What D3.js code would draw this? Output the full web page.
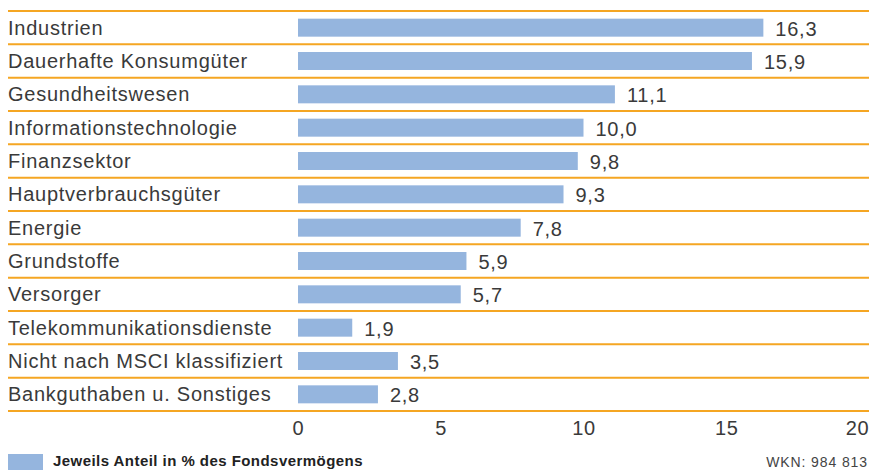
<!DOCTYPE html>
<meta charset="utf-8">
<title>Branchenaufteilung</title>
<style>
body { margin: 0; background: #fff; }
svg text { font-family: "Liberation Sans", "DejaVu Sans", sans-serif; }
.cat, .val, .tick text { font-size: 20px; fill: #3a3a3a; letter-spacing: 0.75px; }
.rule { stroke: #f5a623; stroke-width: 2; }
.bar { fill: #95b5de; }
</style>
<svg width="869" height="470"></svg>
<script src="https://d3js.org/d3.v7.min.js"></script>
<script>

var categories = ["Industrien", "Dauerhafte Konsumgüter", "Gesundheitswesen",
  "Informationstechnologie", "Finanzsektor", "Hauptverbrauchsgüter", "Energie",
  "Grundstoffe", "Versorger", "Telekommunikationsdienste",
  "Nicht nach MSCI klassifiziert", "Bankguthaben u. Sonstiges"];
var values = [16.3, 15.9, 11.1, 10.0, 9.8, 9.3, 7.8, 5.9, 5.7, 1.9, 3.5, 2.8];
var ticks = [0, 5, 10, 15, 20];
var legendText = "Jeweils Anteil in % des Fondsvermögens";
var wknText = "WKN: 984 813";

var svg = d3.select("svg");

var x = d3.scaleLinear().domain([0, 20]).range([298, 869]);
var y = d3.scaleBand().domain(categories).range([11, 411]);
var fmt = function(v) { return d3.format(".1f")(v).replace(".", ","); };

// rows: orange separators
svg.selectAll(".rule")
    .data(d3.range(categories.length + 1))
    .enter().append("line")
    .attr("class", "rule")
    .attr("x1", 8).attr("x2", 869)
    .attr("y1", function(i) { return 11 + i * y.step(); })
    .attr("y2", function(i) { return 11 + i * y.step(); });

svg.selectAll(".bar")
    .data(values)
    .enter().append("rect")
    .attr("class", "bar")
    .attr("x", x(0))
    .attr("y", function(d, i) { return y(categories[i]) + y.bandwidth() / 2 - 9; })
    .attr("width", function(d) { return x(d) - x(0); })
    .attr("height", 18);

svg.selectAll(".cat")
    .data(categories)
    .enter().append("text")
    .attr("class", "cat")
    .attr("x", 8)
    .attr("y", function(d) { return y(d) + y.bandwidth() / 2 + 7; })
    .text(function(d) { return d; });

svg.selectAll(".val")
    .data(values)
    .enter().append("text")
    .attr("class", "val")
    .attr("x", function(d) { return x(d) + 12; })
    .attr("y", function(d, i) { return y(categories[i]) + y.bandwidth() / 2 + 8; })
    .text(fmt);

var axis = svg.append("g")
    .attr("transform", "translate(0,421)")
    .call(d3.axisBottom(x).tickValues(ticks).tickSize(0).tickPadding(0));
axis.select(".domain").remove();
axis.selectAll("text")
    .attr("dy", "0.71em")
    .attr("font-size", null)
    .attr("font-family", null)
    .attr("text-anchor", function(d) { return d === 20 ? "end" : "middle"; });

svg.append("rect")
    .attr("x", 8).attr("y", 454)
    .attr("width", 35).attr("height", 16)
    .attr("fill", "#95b5de");

svg.append("text")
    .attr("x", 53).attr("y", 466)
    .attr("font-size", 15).attr("font-weight", "bold")
    .attr("letter-spacing", 0.45)
    .attr("fill", "#222")
    .text(legendText);

svg.append("text")
    .attr("x", 868).attr("y", 467)
    .attr("text-anchor", "end")
    .attr("font-size", 14)
    .attr("letter-spacing", 0.9)
    .attr("fill", "#444")
    .text(wknText);

</script>
